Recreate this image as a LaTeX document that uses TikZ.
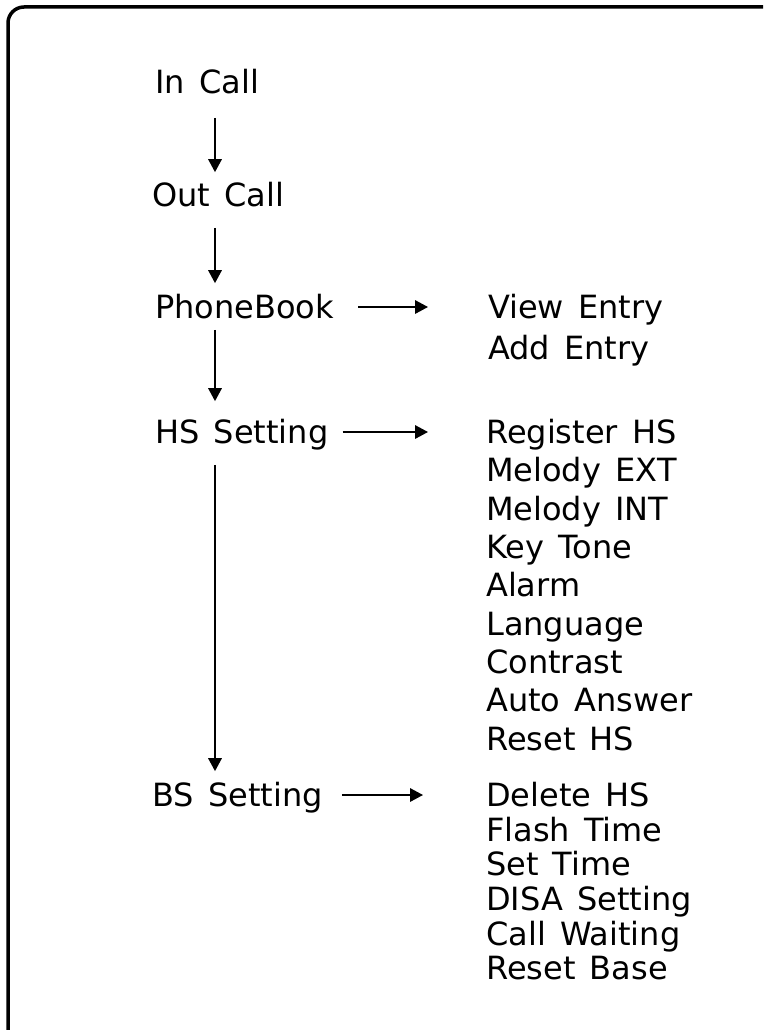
\documentclass[tikz,border=0pt]{standalone}
\usepackage{fontspec}
\setmainfont{DejaVu Sans}[WordSpace=1.4]
\usetikzlibrary{arrows.meta,positioning}
\tikzset{
  menu/.style={anchor=west, inner sep=0pt, text height=23.3pt, text depth=0pt, font=\fontsize{32}{38}\selectfont},
  item/.style={anchor=west, inner sep=0pt, text height=23.3pt, text depth=0pt, font=\fontsize{32}{38}\selectfont},
  arrow/.style={-{Triangle[length=13pt,width=13.5pt]}, line width=1.7pt},
  frame/.style={draw, line width=3.5pt, rounded corners=16pt}
}

\begin{document}
\begin{tikzpicture}[x=1pt, y=-1pt]
  \useasboundingbox (0,0) rectangle (763,1030);
  \begin{scope}
    \clip (0,0) rectangle (763,1030);
    \draw[frame] (8,7) rectangle (800,1070);
  \end{scope}
  \coordinate (spine) at (215,0);
  % main menu
  \node[menu] (incall) at (155,82) {In Call};
  \node[menu] (outcall) at (152,195) {Out Call};
  \node[menu] (book) at (155,307) {PhoneBook};
  \node[menu] (hsset) at (155,432) {HS Setting};
  \node[menu] (bsset) at (152,795) {BS Setting};
  % phonebook items
  \node[item] (view) at (488,307) {View Entry};
  \node[item, below=16.7pt of view.south west, anchor=north west] (add) {Add Entry};
  % handset items
  \node[item] (reghs) at (486,432) {Register HS};
  \node[item, below=14.6pt of reghs.south west, anchor=north west] (melext) {Melody EXT};
  \node[item, below=14.6pt of melext.south west, anchor=north west] (melint) {Melody INT};
  \node[item, below=14.6pt of melint.south west, anchor=north west] (keytone) {Key Tone};
  \node[item, below=14.6pt of keytone.south west, anchor=north west] (alarm) {Alarm};
  \node[item, below=14.6pt of alarm.south west, anchor=north west] (lang) {Language};
  \node[item, below=14.6pt of lang.south west, anchor=north west] (contrast) {Contrast};
  \node[item, below=14.6pt of contrast.south west, anchor=north west] (autoans) {Auto Answer};
  \node[item, below=14.6pt of autoans.south west, anchor=north west] (reseths) {Reset HS};
  % base items
  \node[item] (delhs) at (486,795) {Delete HS};
  \node[item, below=10.9pt of delhs.south west, anchor=north west] (flash) {Flash Time};
  \node[item, below=10.9pt of flash.south west, anchor=north west] (settime) {Set Time};
  \node[item, below=10.9pt of settime.south west, anchor=north west] (disa) {DISA Setting};
  \node[item, below=10.9pt of disa.south west, anchor=north west] (callwait) {Call Waiting};
  \node[item, below=10.9pt of callwait.south west, anchor=north west] (resetbase) {Reset Base};
  % down the menu
  \draw[arrow, shorten <=24pt, shorten >=11pt] (incall.south -| spine) -- (outcall.north -| spine);
  \draw[arrow, shorten <=21pt, shorten >=12pt] (outcall.south -| spine) -- (book.north -| spine);
  \draw[arrow, shorten <=11pt, shorten >=19pt] (book.south -| spine) -- (hsset.north -| spine);
  \draw[arrow, shorten <=21pt, shorten >=12pt] (hsset.south -| spine) -- (bsset.north -| spine);
  % into the sub menus
  \draw[arrow, shorten <=24pt, shorten >=60pt] (book.east) -- (view.west);
  \draw[arrow, shorten <=14pt, shorten >=58pt] (hsset.east) -- (reghs.west);
  \draw[arrow, shorten <=19pt, shorten >=63pt] (bsset.east) -- (delhs.west);
\end{tikzpicture}
\end{document}
